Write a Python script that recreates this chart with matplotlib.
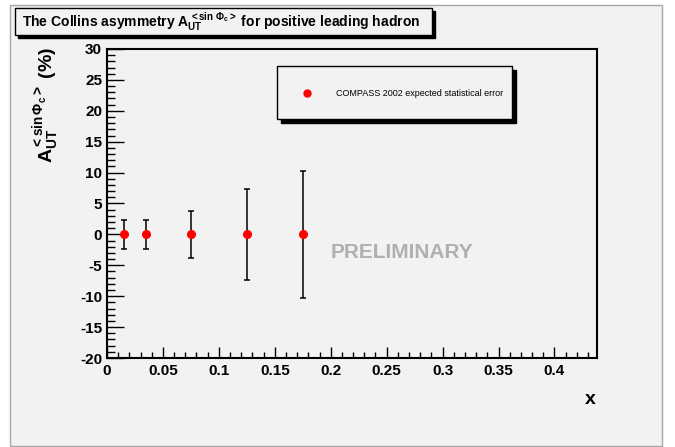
import numpy as np
import matplotlib
matplotlib.use("Agg")
import matplotlib.pyplot as plt
from matplotlib.patches import Rectangle
from matplotlib.ticker import MultipleLocator

# data
x_vals = [0.015, 0.035, 0.075, 0.125, 0.175]
asym = [0.0, 0.0, 0.0, 0.0, 0.0]
stat_err = [2.4, 2.3, 3.75, 7.4, 10.3]

title = r"The Collins asymmetry A$_{\mathbf{UT}}^{\,<\mathbf{sin}\ \Phi_{c}>}$ for positive leading hadron"
ylab = r"A$_{\mathbf{UT}}^{<\mathbf{sin}\,\Phi_{c}>}$ (%)"
legend_label = "COMPASS 2002 expected statistical error"

plt.rcParams.update({
    "font.family": "Liberation Sans",
    "font.weight": "bold",
    "axes.unicode_minus": False,
    "mathtext.fontset": "custom",
    "mathtext.rm": "Liberation Sans:bold",
    "mathtext.bf": "Liberation Sans:bold",
    "mathtext.it": "Liberation Sans:bold",
    "mathtext.sf": "Liberation Sans:bold",
})

W, H = 675, 447
BG = "#f2f2f2"
fig = plt.figure(figsize=(W / 100, H / 100), dpi=100, facecolor="white")


def px(x0, y0, x1, y1):
    # pixel box (top-left origin) -> figure fraction rect
    return (x0 / W, 1 - y1 / H, (x1 - x0) / W, (y1 - y0) / H)


# canvas background
r = px(10, 5, 662, 446)
fig.patches.append(Rectangle(r[:2], r[2], r[3], transform=fig.transFigure,
                             facecolor=BG, edgecolor="#a8a8a8", lw=1, zorder=-5))

ax = fig.add_axes([107 / W, 1 - 358 / H, (597 - 107) / W, (358 - 49) / H])
ax.set_facecolor(BG)
ax.set_zorder(0)

ax.errorbar(x_vals, asym, yerr=stat_err, fmt="none", ecolor="black",
            elinewidth=1.1, capsize=2, capthick=1.1, zorder=2)
ax.plot(x_vals, asym, "o", color="red", markersize=5.5, zorder=3)

ax.set_xlim(0, 0.438)
ax.set_ylim(-20, 30)
ax.xaxis.set_major_locator(MultipleLocator(0.05))
ax.xaxis.set_minor_locator(MultipleLocator(0.01))
ax.yaxis.set_major_locator(MultipleLocator(5))
ax.yaxis.set_minor_locator(MultipleLocator(1))
ax.set_xticks(np.arange(0, 0.41, 0.05))
ax.set_xticklabels(["0", "0.05", "0.1", "0.15", "0.2", "0.25", "0.3", "0.35", "0.4"])
ax.tick_params(which="both", direction="in", top=False, right=False, width=1,
               labelsize=11, color="black")
ax.tick_params(axis="y", which="major", length=12, pad=3.5)
ax.tick_params(axis="y", which="minor", length=6)
ax.tick_params(axis="x", which="major", length=8, pad=4)
ax.tick_params(axis="x", which="minor", length=4)
for lab in ax.get_xticklabels() + ax.get_yticklabels():
    lab.set_fontweight("bold")
for s in ax.spines.values():
    s.set_linewidth(1.5)

ax.text(0.264, -2.9, "PRELIMINARY", color="#b0b0b0", fontsize=15,
        fontweight="bold", ha="center", va="center")

# title box with shadow
r = px(18, 11, 435, 38)
fig.patches.append(Rectangle(r[:2], r[2], r[3], transform=fig.transFigure,
                             facecolor="black", edgecolor="black", lw=1, zorder=1))
r = px(15, 8, 432, 35)
fig.patches.append(Rectangle(r[:2], r[2], r[3], transform=fig.transFigure,
                             facecolor=BG, edgecolor="black", lw=1, zorder=2))
fig.text(221 / W, 1 - 22 / H, title, fontsize=10, fontweight="bold",
         ha="center", va="center", zorder=3)

# legend box with shadow
r = px(281, 70, 516, 123)
fig.patches.append(Rectangle(r[:2], r[2], r[3], transform=fig.transFigure,
                             facecolor="black", edgecolor="black", lw=1, zorder=4))
r = px(277, 66, 512, 119)
fig.patches.append(Rectangle(r[:2], r[2], r[3], transform=fig.transFigure,
                             facecolor=BG, edgecolor="black", lw=1, zorder=5))
fig.lines.append(plt.Line2D([307 / W], [1 - 93 / H], marker="o", color="red",
                            markersize=5, transform=fig.transFigure, zorder=6))
fig.text(336 / W, 1 - 93 / H, legend_label, fontsize=6.5, fontweight="normal",
         ha="left", va="center", zorder=6)

# axis titles
fig.text(47 / W, 1 - 47 / H, ylab, rotation=90, fontsize=14, fontweight="bold",
         ha="center", va="top")
fig.text(590 / W, 1 - 400 / H, "x", fontsize=14, fontweight="bold",
         ha="center", va="center")

fig.savefig("out.png", dpi=100, facecolor="white")
